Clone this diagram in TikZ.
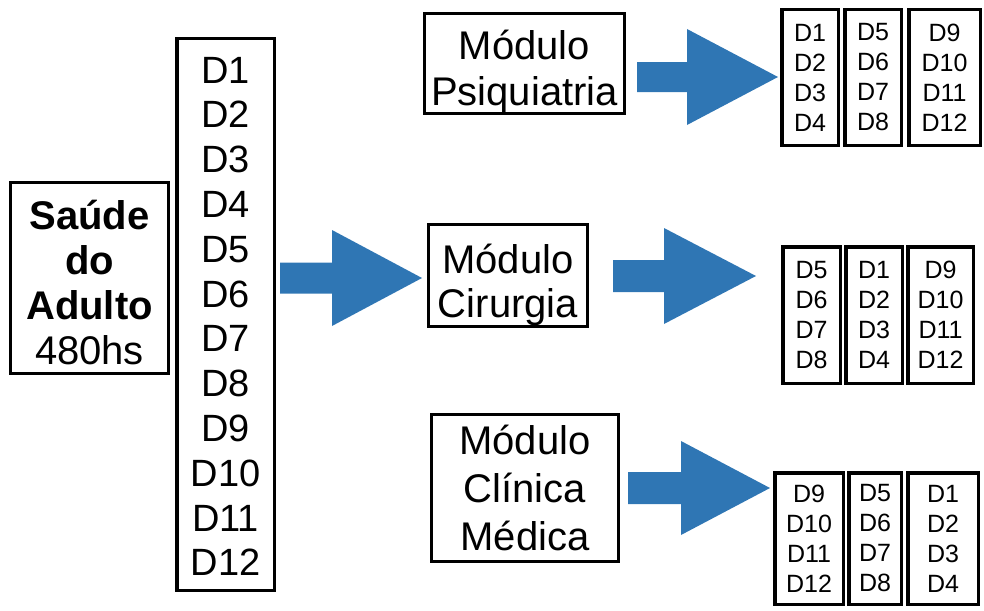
\documentclass[tikz,border=0pt]{standalone}
\usepackage{fontspec}
\setmainfont{Liberation Sans}
\definecolor{arrowblue}{RGB}{47,118,180}
% block arrow: shaft left x, head base x, tip x, centre y, shaft half height, head half height
\newcommand\blkarrow[6]{%
  \fill[arrowblue] (#1,#4-#5) -- (#2,#4-#5) -- (#2,#4-#6) -- (#3,#4)
    -- (#2,#4+#6) -- (#2,#4+#5) -- (#1,#4+#5) -- cycle;}
\begin{document}
\begin{tikzpicture}[x=1pt,y=-1pt,
  box/.style={draw=black, line width=3pt, rectangle, inner sep=0pt, align=center},
  big/.style={font=\fontsize{40}{46}\selectfont},
  dlist/.style={font=\fontsize{38}{44.8}\selectfont},
  small/.style={font=\fontsize{25}{30}\selectfont},
  tcol/.style={box, line width=3.5pt, small}]
\useasboundingbox (0,0) rectangle (984,610);

% left blocks
\node[box, big, font=\fontsize{40}{45}\selectfont, minimum width=158pt, minimum height=191pt] (sa) at (89.5,278)
  {\rule{0pt}{38pt}\textbf{Saúde}\\\textbf{do}\\\textbf{Adulto}\\480hs};
\node[box, dlist, line width=3.5pt, minimum width=97.5pt, minimum height=551.5pt] (dcol) at (225.5,314.5)
  {\rule{0pt}{30pt}D1\\D2\\D3\\D4\\D5\\D6\\D7\\D8\\D9\\D10\\D11\\D12};

% modules
\node[box, big, minimum width=200pt, minimum height=100pt] (psi) at (524.5,63.5) {\rule{0pt}{46pt}Módulo\\Psiquiatria};
\node[box, big, font=\fontsize{40}{44}\selectfont, minimum width=159pt, minimum height=100pt] (cir) at (508,275.5) {\rule{0pt}{49pt}Módulo\\Cirurgia};
\node[box, big, font=\fontsize{40}{48}\selectfont, minimum width=187pt, minimum height=147pt] (cli) at (525,488) {Módulo\\Clínica\\Médica};

% table 1
\node[tcol, minimum width=56.5pt, minimum height=135.5pt] (t1a) at (810,77.5) {D1\\D2\\D3\\D4};
\node[tcol, minimum width=56.5pt, minimum height=135.5pt] (t1b) at (873,77.5) {D5\\D6\\D7\\D8};
\node[tcol, minimum width=71.5pt, minimum height=135.5pt] (t1c) at (944.5,77.5) {D9\\D10\\D11\\D12};

% table 2
\node[tcol, minimum width=57.5pt, minimum height=136.5pt] (t2a) at (811.5,315) {D5\\D6\\D7\\D8};
\node[tcol, minimum width=56.5pt, minimum height=136.5pt] (t2b) at (874,315) {D1\\D2\\D3\\D4};
\node[tcol, minimum width=65.5pt, minimum height=136.5pt] (t2c) at (940.5,315) {D9\\D10\\D11\\D12};

% table 3
\node[tcol, minimum width=68.5pt, minimum height=131.5pt] (t3a) at (809,538.5) {D9\\D10\\D11\\D12};
\node[tcol, minimum width=52.5pt, minimum height=131.5pt] (t3b) at (875,538.5) {D5\\D6\\D7\\D8};
\node[tcol, minimum width=70.5pt, minimum height=131.5pt] (t3c) at (943,538.5) {D1\\D2\\D3\\D4};

% block arrows
\blkarrow{280}{332}{422}{278}{15.5}{48}
\blkarrow{637}{687}{778}{77}{15}{48}
\blkarrow{613}{664}{756}{276}{16}{48}
\blkarrow{628}{681}{770}{488}{16}{47}
\end{tikzpicture}
\end{document}
